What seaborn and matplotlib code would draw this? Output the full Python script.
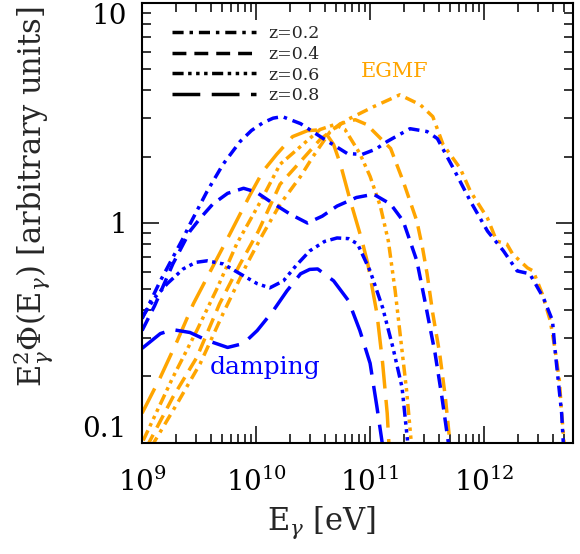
import numpy as np
import pandas as pd
import matplotlib
matplotlib.use('Agg')
import matplotlib.pyplot as plt
from matplotlib.lines import Line2D
from matplotlib.ticker import LogLocator, NullFormatter
import seaborn as sns

# curves, stored as log10(E [eV]) and log10(E^2 Phi)
damp_z02_logE = [9.0, 9.16, 9.36, 9.42, 9.57, 9.71, 9.86, 9.96, 10.06, 10.15, 10.23, 10.39, 10.59, 10.80, 10.93,
                 11.05, 11.15, 11.35, 11.50, 11.59, 11.73, 11.88, 12.03, 12.17, 12.29, 12.40, 12.52, 12.60,
                 12.62, 12.65, 12.68, 12.70]
damp_z02_logF = [-0.436, -0.264, -0.07, -0.006, 0.143, 0.266, 0.37, 0.42, 0.455, 0.476, 0.483, 0.451, 0.383, 0.315, 0.311,
                 0.335, 0.37, 0.428, 0.415, 0.383, 0.248, 0.098, -0.038, -0.128, -0.219, -0.232, -0.341, -0.445,
                 -0.567, -0.716, -0.865, -1.05]

damp_z04_logE = [9.0, 9.11, 9.27, 9.42, 9.51, 9.62, 9.75, 9.89, 10.0, 10.12, 10.30, 10.45, 10.58, 10.71, 10.88,
                 11.03, 11.18, 11.29, 11.41, 11.48, 11.57, 11.63, 11.70]
damp_z04_logF = [-0.49, -0.377, -0.187, -0.038, 0.021, 0.085, 0.134, 0.157, 0.14, 0.098, 0.039, -0.001, 0.03, 0.076, 0.115,
                 0.13, 0.085, 0.008, -0.173, -0.354, -0.594, -0.793, -1.05]

damp_z06_logE = [9.0, 9.11, 9.22, 9.36, 9.47, 9.57, 9.71, 9.86, 10.01, 10.12, 10.24, 10.35, 10.47, 10.60, 10.71, 10.81, 10.89,
                 11.0, 11.11, 11.20, 11.28, 11.34]
damp_z06_logF = [-0.431, -0.341, -0.277, -0.21, -0.18, -0.173, -0.187, -0.232, -0.277, -0.296, -0.264, -0.195, -0.128, -0.085, -0.069, -0.072, -0.096,
                 -0.219, -0.386, -0.567, -0.748, -1.05]

damp_z08_logE = [9.0, 9.16, 9.27, 9.42, 9.57, 9.75, 9.89, 10.01, 10.15, 10.27, 10.39, 10.47, 10.54, 10.68,
                 10.81, 10.91, 11.0, 11.06, 11.12]
damp_z08_logF = [-0.571, -0.504, -0.486, -0.499, -0.535, -0.567, -0.549, -0.49, -0.40, -0.31, -0.232, -0.212, -0.21, -0.264,
                 -0.354, -0.49, -0.639, -0.838, -1.05]

egmf_z02_logE = [9.08, 9.31, 9.51, 9.71, 9.92, 10.06, 10.21, 10.39, 10.5, 10.65, 10.80, 11.03, 11.26,
                 11.44, 11.55, 11.64, 11.79, 11.88, 12.03, 12.11, 12.20, 12.25, 12.38, 12.43, 12.51,
                 12.58, 12.62, 12.66, 12.68, 12.71]
egmf_z02_logF = [-1.02, -0.82, -0.64, -0.413, -0.187, -0.051, 0.084, 0.211, 0.302, 0.415, 0.469, 0.528, 0.582,
                 0.537, 0.483, 0.356, 0.248, 0.143, 0.021, -0.083, -0.097, -0.142, -0.205, -0.219, -0.323,
                 -0.445, -0.567, -0.716, -0.865, -1.05]

egmf_z04_logE = [9.04, 9.27, 9.48, 9.68, 9.86, 10.02, 10.21, 10.39, 10.56, 10.74, 10.87, 10.97, 11.18,
                 11.29, 11.41, 11.46, 11.5, 11.55, 11.61, 11.66, 11.71]
egmf_z04_logF = [-1.02, -0.793, -0.612, -0.368, -0.187, -0.038, 0.175, 0.279, 0.378, 0.451, 0.469, 0.447, 0.338,
                 0.189, 0.008, -0.114, -0.232, -0.413, -0.594, -0.793, -1.05]

egmf_z06_logE = [9.01, 9.27, 9.48, 9.66, 9.83, 10.04, 10.21, 10.39, 10.56, 10.69, 10.78, 10.91, 11.0,
                 11.09, 11.16, 11.22, 11.27, 11.32, 11.37]
egmf_z06_logF = [-0.99, -0.703, -0.49, -0.296, -0.096, 0.098, 0.266, 0.347, 0.424, 0.447, 0.424, 0.315, 0.211,
                 0.075, -0.083, -0.31, -0.536, -0.762, -1.05]

egmf_z08_logE = [9.0, 9.16, 9.31, 9.45, 9.60, 9.77, 9.86, 9.95, 10.06, 10.18, 10.32, 10.45, 10.59,
                 10.68, 10.74, 10.82, 10.93, 10.98, 11.06, 11.11, 11.15, 11.17]
egmf_z08_logF = [-0.866, -0.703, -0.535, -0.368, -0.219, -0.051, 0.04, 0.13, 0.234, 0.311, 0.392, 0.419, 0.424,
                 0.356, 0.266, 0.112, -0.083, -0.187, -0.413, -0.639, -0.866, -1.05]

redshifts = ['z=0.2', 'z=0.4', 'z=0.6', 'z=0.8']
models = ['EGMF', 'damping']
xtick_vals = [1e9, 1e10, 1e11, 1e12]
xtick_labels = [r'$10^{9}$', r'$10^{10}$', r'$10^{11}$', r'$10^{12}$']
ytick_vals = [0.1, 1, 10]
ytick_labels = ['0.1', '1', '10']

curves = {
    ('EGMF', 'z=0.2'): (egmf_z02_logE, egmf_z02_logF),
    ('EGMF', 'z=0.4'): (egmf_z04_logE, egmf_z04_logF),
    ('EGMF', 'z=0.6'): (egmf_z06_logE, egmf_z06_logF),
    ('EGMF', 'z=0.8'): (egmf_z08_logE, egmf_z08_logF),
    ('damping', 'z=0.2'): (damp_z02_logE, damp_z02_logF),
    ('damping', 'z=0.4'): (damp_z04_logE, damp_z04_logF),
    ('damping', 'z=0.6'): (damp_z06_logE, damp_z06_logF),
    ('damping', 'z=0.8'): (damp_z08_logE, damp_z08_logF),
}
frames = []
for (model, z), (le, lf) in curves.items():
    frames.append(pd.DataFrame({'E': 10 ** np.array(le), 'flux': 10 ** np.array(lf),
                                'model': model, 'z': z}))
df = pd.concat(frames, ignore_index=True)

sns.set_theme(style='ticks')
plt.rcParams['font.family'] = ['DejaVu Serif']
plt.rcParams['mathtext.fontset'] = 'dejavuserif'

palette = {'EGMF': '#FFA500', 'damping': '#0000FF'}
dashes = {
    'z=0.2': (3.2, 1.7, 1.0, 1.7),
    'z=0.4': (4.0, 2.3),
    'z=0.6': (3.2, 1.3, 1.0, 1.3, 1.0, 1.3, 1.0, 1.3),
    'z=0.8': (8.0, 3.3),
}

fig = plt.figure(figsize=(5.8, 5.54), dpi=100)
ax = fig.add_axes([0.245, 0.201, 0.7426, 0.7937])
ax.set_xscale('log')
ax.set_yscale('log')

sns.lineplot(data=df, x='E', y='flux', hue='model', style='z', hue_order=models, style_order=redshifts,
             palette=palette, dashes=dashes, estimator=None, sort=False, linewidth=2.5,
             legend=False, ax=ax)

ax.set_xlim(1e9, 6e12)
ax.set_ylim(0.1, 10)
ax.set_xticks(xtick_vals, labels=xtick_labels)
ax.set_yticks(ytick_vals, labels=ytick_labels)
ax.xaxis.set_minor_locator(LogLocator(base=10, subs=np.arange(2, 10)))
ax.yaxis.set_minor_locator(LogLocator(base=10, subs=np.arange(2, 10)))
ax.xaxis.set_minor_formatter(NullFormatter())
ax.yaxis.set_minor_formatter(NullFormatter())

ax.tick_params(which='both', direction='in', top=True, right=True, width=1.1, colors='black')
ax.tick_params(which='major', length=12.5)
ax.tick_params(which='minor', length=6.5)
ax.tick_params(axis='x', which='major', labelsize=20, pad=18)
ax.tick_params(axis='y', which='major', labelsize=20, pad=11)
for lab in ax.get_yticklabels():
    if lab.get_text() == '10':
        lab.set_va('top')
    elif lab.get_text() == '0.1':
        lab.set_va('bottom')
for sp in ax.spines.values():
    sp.set_linewidth(1.5)
    sp.set_color('black')

ax.set_xlabel(r'$\mathrm{E}_{\gamma}$ [eV]', fontsize=22)
ax.set_ylabel(r'$\mathrm{E}_{\gamma}^{2}\Phi(\mathrm{E}_{\gamma})$ [arbitrary units]', fontsize=22)
ax.xaxis.set_label_coords(0.416, -0.142)
ax.yaxis.set_label_coords(-0.202, 0.56)

ax.text(0.587, 0.843, 'EGMF', transform=ax.transAxes, color='#FFA500', fontsize=15,
        ha='center', va='center')
ax.text(0.286, 0.172, 'damping', transform=ax.transAxes, color='#0000FF', fontsize=18,
        ha='center', va='center')

handles = [Line2D([], [], color='black', linewidth=2.5, dashes=dashes[z]) for z in redshifts]
ax.legend(handles, redshifts, loc='upper left', bbox_to_anchor=(0.07, 0.95), frameon=False,
          fontsize=12.5, handlelength=4.8, handletextpad=0.75, labelspacing=0.22,
          borderpad=0, borderaxespad=0)

fig.savefig('out.png', dpi=100)
